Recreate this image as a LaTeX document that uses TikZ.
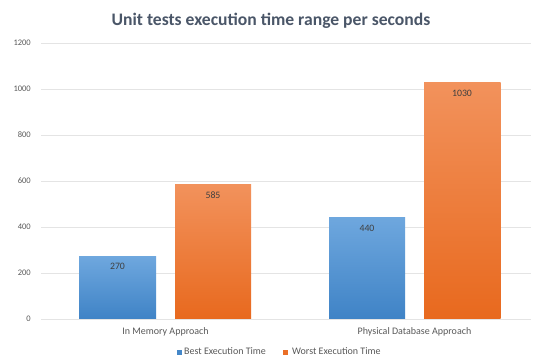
\documentclass[tikz,border=0pt]{standalone}
\usepackage{fontspec}
\setmainfont{Carlito}
\definecolor{titlegray}{HTML}{4A5668}
\definecolor{axisgray}{HTML}{595959}
\definecolor{valgray}{HTML}{404040}
\definecolor{gridgray}{HTML}{E4E4E4}
\definecolor{bluetop}{HTML}{6EA7DE}
\definecolor{bluebot}{HTML}{3F83C6}
\definecolor{orangetop}{HTML}{F2925C}
\definecolor{orangebot}{HTML}{E8691E}
\tikzset{
  gridline/.style={draw=gridgray, line width=0.8pt},
  ticklabel/.style={anchor=east, text=axisgray, font=\fontsize{8.5}{10}\selectfont, inner sep=0pt},
  catlabel/.style={anchor=base, text=axisgray, font=\fontsize{10}{12}\selectfont, inner sep=0pt},
  vallabel/.style={text=valgray, font=\fontsize{9.8}{12}\selectfont, inner sep=0pt},
  legendtext/.style={anchor=base west, text=axisgray, font=\fontsize{10}{12}\selectfont, inner sep=0pt},
  bluebar/.style={top color=bluetop, bottom color=bluebot, shading angle=0},
  orangebar/.style={top color=orangetop, bottom color=orangebot, shading angle=0},
}
\begin{document}
\begin{tikzpicture}[x=1pt, y=1pt]
  \useasboundingbox (0,0) rectangle (533,356);
  \fill[white] (0,0) rectangle (533,356);

  % title
  \node[text=titlegray, font=\fontsize{17.6}{20}\selectfont\bfseries] (title) at (271,335) {Unit tests execution time range per seconds};

  % value axis: zero line at y=37, 0.23pt per second
  \foreach \v in {0,200,...,1200} {
    \pgfmathsetmacro{\yy}{37+0.23*\v}
    \draw[gridline] (41,\yy) -- (531,\yy);
    \node[ticklabel] (tick\v) at (31,\yy) {\v};
  }

  % bars
  \shade[bluebar]   (79,37)    rectangle (156,99.1);
  \shade[orangebar] (175,37)   rectangle (251,171.6);
  \shade[bluebar]   (329,37)   rectangle (405,138.2);
  \shade[orangebar] (424,37)   rectangle (500.5,273.9);

  % data labels
  \node[vallabel] (v1) at (117.5,89.3) {270};
  \node[vallabel] (v2) at (213,161) {585};
  \node[vallabel] (v3) at (367,128) {440};
  \node[vallabel] (v4) at (462,263) {1030};

  % category labels
  \node[catlabel] (c1) at (165.5,21.5) {In Memory Approach};
  \node[catlabel] (c2) at (414.5,21.5) {Physical Database Approach};

  % legend
  \fill[bluebot!90!bluetop] (176.7,1.3) rectangle (181.7,5.7);
  \node[legendtext] (l1) at (184,1.6) {Best Execution Time};
  \fill[orangebot!85!orangetop] (283.3,1.3) rectangle (288.3,5.7);
  \node[legendtext] (l2) at (292,1.6) {Worst Execution Time};
\end{tikzpicture}
\end{document}
